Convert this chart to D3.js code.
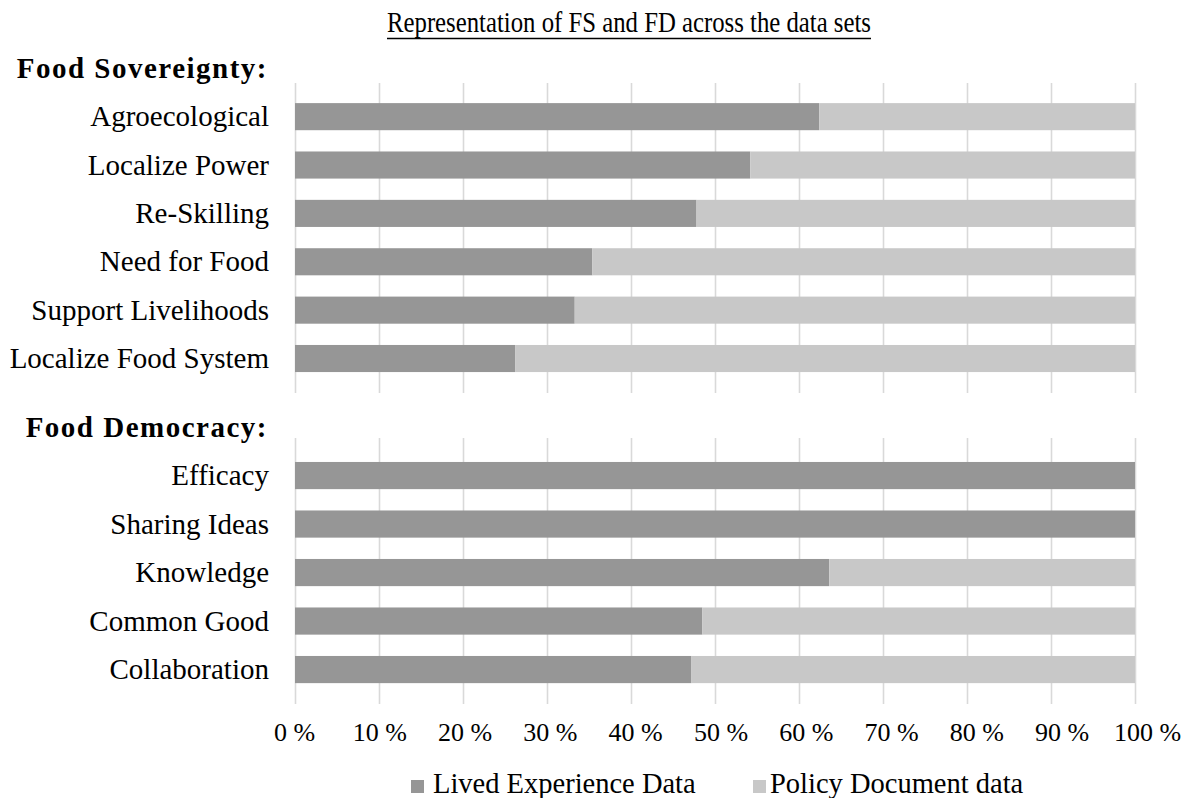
<!DOCTYPE html>
<html>
<head>
<meta charset="utf-8">
<script src="https://cdn.jsdelivr.net/npm/d3@7"></script>
<style>
  body { margin: 0; background: #fff; }
  svg text { font-family: "Liberation Serif", "Times New Roman", serif; fill: #000; }
</style>
</head>
<body>
<div id="chart"></div>
<script>
// data (percent of mentions)
var fsHeader = "Food Sovereignty:";
var fsCategories = ["Agroecological", "Localize Power", "Re-Skilling", "Need for Food", "Support Livelihoods", "Localize Food System"];
var fsLived = [62.4, 54.2, 47.8, 35.4, 33.3, 26.2];
var fsPolicy = [37.6, 45.8, 52.2, 64.6, 66.7, 73.8];

var fdHeader = "Food Democracy:";
var fdCategories = ["Efficacy", "Sharing Ideas", "Knowledge", "Common Good", "Collaboration"];
var fdLived = [100, 100, 63.6, 48.5, 47.2];
var fdPolicy = [0, 0, 36.4, 51.5, 52.8];

var xTicks = [0, 10, 20, 30, 40, 50, 60, 70, 80, 90, 100];
var seriesNames = ["Lived Experience Data", "Policy Document data"];
var seriesColors = ["#969696", "#c8c8c8"];

var width = 1185, height = 798;
var svg = d3.select("#chart").append("svg")
  .attr("width", width)
  .attr("height", height);

var xScale = d3.scaleLinear().domain([0, 100]).range([295, 1135]);
// tick labels in the picture drift slightly right of their gridlines
var xLabelScale = d3.scaleLinear().domain([0, 100]).range([294, 1147]);
var keys = ["lived", "policy"];
var color = d3.scaleOrdinal().domain(keys).range(seriesColors);
var stack = d3.stack().keys(keys);

// title, underlined
svg.append("text")
  .attr("x", 629)
  .attr("y", 32)
  .attr("text-anchor", "middle")
  .attr("font-size", 30)
  .attr("textLength", 484)
  .attr("lengthAdjust", "spacingAndGlyphs")
  .text("Representation of FS and FD across the data sets");
svg.append("line")
  .attr("x1", 387).attr("x2", 871)
  .attr("y1", 38.5).attr("y2", 38.5)
  .attr("stroke", "#000").attr("stroke-width", 1.4);

function drawPanel(header, cats, lived, policy, bandRange, gridTop, gridBottom) {
  var rows = cats.map(function (c, i) {
    return { name: c, lived: lived[i], policy: policy[i] };
  });

  // header sits in its own slot above the categories
  var yScale = d3.scaleBand()
    .domain([header].concat(cats))
    .range(bandRange)
    .paddingInner(0.44)
    .paddingOuter(0.22);

  var g = svg.append("g");

  // vertical gridlines
  g.append("g")
    .attr("transform", "translate(0," + gridBottom + ")")
    .call(d3.axisBottom(xScale).tickValues(xTicks).tickSize(-(gridBottom - gridTop)).tickFormat(""))
    .call(function (a) {
      a.select(".domain").remove();
      a.selectAll(".tick line").attr("stroke", "#d9d9d9").attr("stroke-width", 1.6);
    });

  // stacked bars
  g.append("g")
    .selectAll("g")
    .data(stack(rows))
    .join("g")
    .attr("fill", function (d) { return color(d.key); })
    .selectAll("rect")
    .data(function (d) { return d; })
    .join("rect")
    .attr("x", function (d) { return xScale(d[0]); })
    .attr("y", function (d) { return yScale(d.data.name); })
    .attr("width", function (d) { return xScale(d[1]) - xScale(d[0]); })
    .attr("height", yScale.bandwidth());

  // category labels
  g.append("g")
    .selectAll("text")
    .data(cats)
    .join("text")
    .attr("x", 269)
    .attr("y", function (d) { return yScale(d) + yScale.bandwidth() / 2; })
    .attr("dy", "0.33em")
    .attr("text-anchor", "end")
    .attr("font-size", 29)
    .text(function (d) { return d; });

  // group header
  g.append("text")
    .attr("x", 268)
    .attr("y", yScale(header) + yScale.bandwidth() / 2)
    .attr("dy", "0.33em")
    .attr("text-anchor", "end")
    .attr("font-size", 29)
    .attr("font-weight", "bold")
    .attr("letter-spacing", "1.5px")
    .text(header);
}

drawPanel(fsHeader, fsCategories, fsLived, fsPolicy, [44.1, 382.7], 83, 393);
drawPanel(fdHeader, fdCategories, fdLived, fdPolicy, [402.8, 693.8], 438, 704);

// x axis labels
svg.append("g")
  .attr("transform", "translate(0,704)")
  .call(d3.axisBottom(xLabelScale).tickValues(xTicks).tickSize(0).tickPadding(19)
    .tickFormat(function (d) { return d + " %"; }))
  .call(function (a) {
    a.select(".domain").remove();
    a.selectAll("text")
      .attr("font-size", 26)
      .attr("font-family", "'Liberation Serif', 'Times New Roman', serif")
      .attr("fill", "#000");
  });

// legend
var legendX = [411, 753];
var legend = svg.append("g")
  .selectAll("g")
  .data(seriesNames)
  .join("g")
  .attr("transform", function (d, i) { return "translate(" + legendX[i] + ",780)"; });

legend.append("rect")
  .attr("width", 13)
  .attr("height", 13)
  .attr("fill", function (d, i) { return seriesColors[i]; });

legend.append("text")
  .attr("x", function (d, i) { return i == 0 ? 22 : 17; })
  .attr("y", 13)
  .attr("font-size", 28.5)
  .text(function (d) { return d; });
</script>
</body>
</html>
